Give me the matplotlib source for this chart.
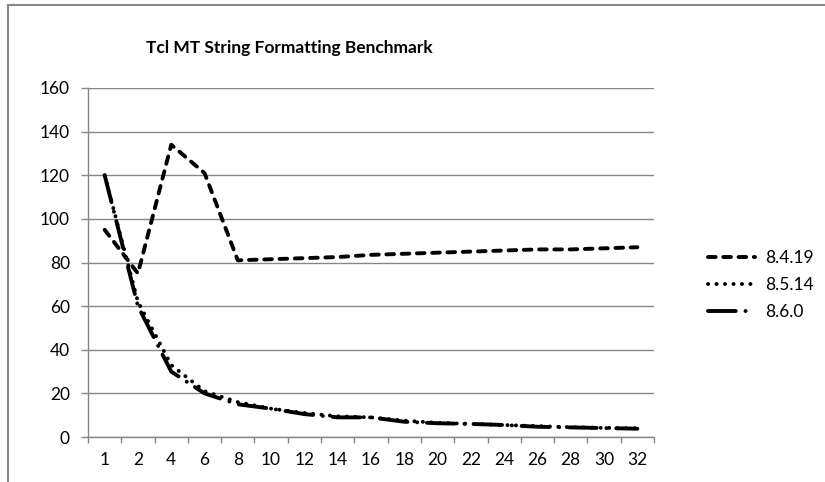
import matplotlib
matplotlib.use('Agg')
import matplotlib.pyplot as plt
from matplotlib.lines import Line2D

plt.rcParams['font.family'] = ['Lato', 'DejaVu Sans']
plt.rcParams['lines.scale_dashes'] = False

# threads on the category axis
threads = ['1', '2', '4', '6', '8', '10', '12', '14', '16', '18', '20',
           '22', '24', '26', '28', '30', '32']
v8419 = [95, 75, 134, 121, 81, 81.5, 82, 82.5, 83.5, 84, 84.5, 85, 85.5, 86, 86, 86.5, 87]
v8514 = [120, 62, 33, 21, 16, 13, 11, 9.5, 9, 7.5, 6.5, 6, 5.5, 5, 4.5, 4.2, 4]
v860 = [120, 60, 30, 20, 15, 13, 10.5, 9, 9, 7, 6.3, 6, 5.5, 4.7, 4.4, 4.1, 3.8]

gray = '#868686'

fig = plt.figure(figsize=(8.25, 4.82), dpi=100)
ax = fig.add_axes([88 / 825, 1 - 437 / 482, 566 / 825, 349 / 482])

x = list(range(len(threads)))
lw = 2.8
ax.plot(x, v8419, color='black', lw=lw, linestyle=(0, (5.5, 5.5)),
        dash_capstyle='round', solid_capstyle='round', label='8.4.19')
ax.plot(x, v8514, color='black', lw=lw, linestyle=(0, (0.1, 6.0)),
        dash_capstyle='round', label='8.5.14')
ax.plot(x, v860, color='black', lw=lw, linestyle=(0, (20, 7, 0.1, 7)),
        dash_capstyle='round', label='8.6.0')

ax.set_xlim(-0.5, len(threads) - 0.5)
ax.set_ylim(0, 160)
ax.set_yticks(range(0, 161, 20))
ax.set_xticks(x)
ax.set_xticklabels(threads)
ax.set_xticks([i - 0.5 for i in range(len(threads) + 1)], minor=True)

ax.grid(axis='y', color=gray, lw=1.0)
ax.set_axisbelow(True)
for s in ['top', 'right']:
    ax.spines[s].set_visible(False)
for s in ['left', 'bottom']:
    ax.spines[s].set_color(gray)
    ax.spines[s].set_linewidth(1.0)

ax.tick_params(axis='y', direction='out', length=5, width=1, color=gray,
               labelsize=12.5, pad=8)
ax.tick_params(axis='x', which='major', length=0, labelsize=12.5, pad=11)
ax.tick_params(axis='x', which='minor', direction='out', length=4, width=1,
               color=gray)

fig.text(289.5 / 825, 1 - 48 / 482, 'Tcl MT String Formatting Benchmark',
         ha='center', va='center', fontsize=12.5, fontweight='bold')

ax.legend(loc='center left', bbox_to_anchor=(708 / 825, 1 - 285 / 482),
          bbox_transform=fig.transFigure, frameon=False, fontsize=12.5,
          handlelength=2.7, handletextpad=0.6, labelspacing=0.65,
          borderpad=0, borderaxespad=0)

# chart area border (top and left edges visible)
fig.add_artist(Line2D([8 / 825, 1], [1 - 5 / 482, 1 - 5 / 482],
                      transform=fig.transFigure, color=gray, lw=1.5))
fig.add_artist(Line2D([8 / 825, 8 / 825], [0, 1 - 5 / 482],
                      transform=fig.transFigure, color=gray, lw=1.5))

fig.savefig('out.png', dpi=100)
